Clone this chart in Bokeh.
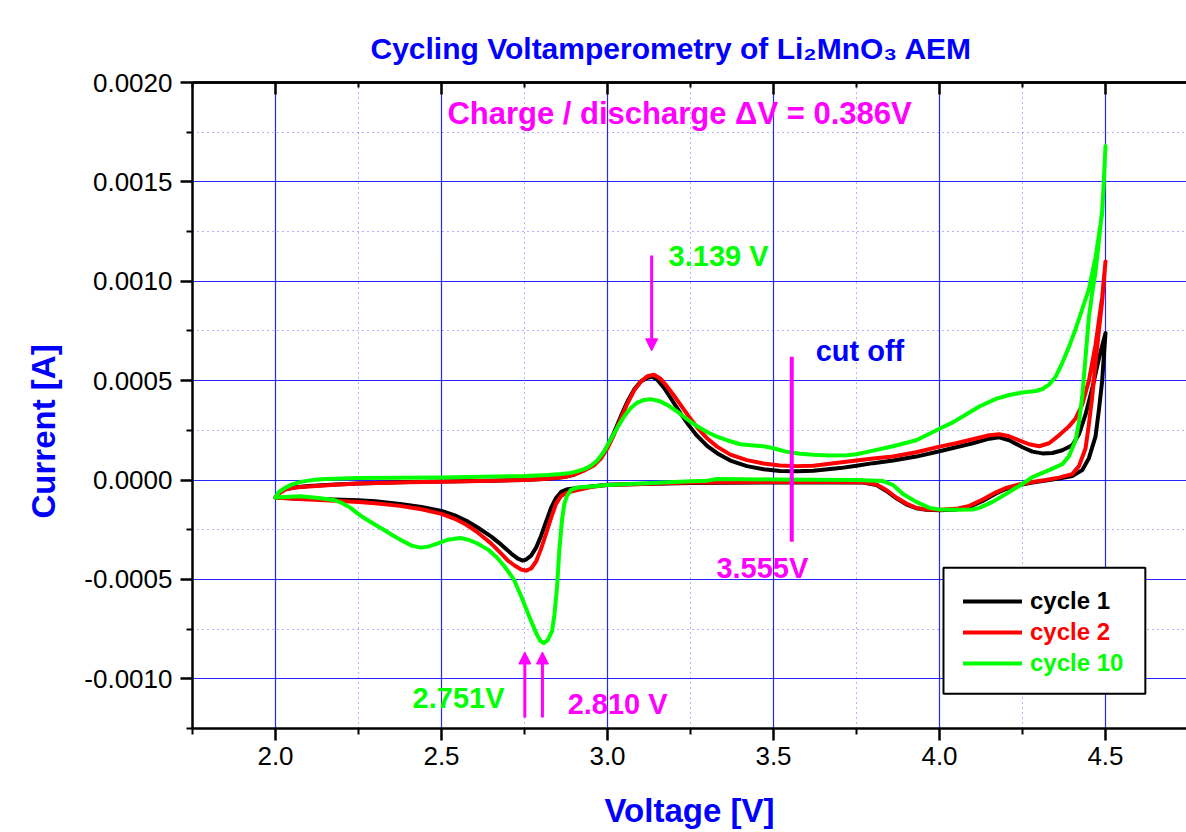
from bokeh.plotting import figure
from bokeh.models import (Range1d, FixedTicker, NumeralTickFormatter, LinearAxis, Label, Title,
                          Arrow, NormalHead, BoxAnnotation, Legend, LegendItem)
from bokeh.embed import file_html
from bokeh.resources import INLINE

# ---------------- data ----------------
cycle1_v = [2.00, 2.01, 2.03, 2.06, 2.10, 2.18, 2.25, 2.40, 2.50, 2.65, 2.75, 2.82, 2.87, 2.90,
            2.93, 2.96, 2.98, 3.00, 3.02, 3.04, 3.06, 3.08, 3.10, 3.12, 3.135, 3.15, 3.17, 3.195,
            3.22, 3.245, 3.27, 3.30, 3.33, 3.37, 3.42, 3.47, 3.52, 3.57, 3.62, 3.70, 3.75, 3.80,
            3.86, 3.93, 4.00, 4.05, 4.10, 4.15, 4.18, 4.21, 4.25, 4.28, 4.31, 4.34, 4.37, 4.40,
            4.42, 4.44, 4.46, 4.48, 4.50,
            4.49, 4.48, 4.47, 4.45, 4.43, 4.40, 4.36, 4.32, 4.28, 4.24, 4.20, 4.17, 4.13, 4.09,
            4.05, 4.00, 3.96, 3.93, 3.90, 3.87, 3.84, 3.81, 3.77, 3.70, 3.50, 3.25, 3.00, 2.95,
            2.91, 2.88, 2.86, 2.845, 2.83, 2.815, 2.80, 2.785, 2.77, 2.755, 2.745, 2.73, 2.71,
            2.68, 2.65, 2.61, 2.575, 2.54, 2.50, 2.44, 2.375, 2.30, 2.25, 2.15, 2.05, 2.00]
cycle1_i = [-0.000088, -0.000065, -0.000045, -0.000036, -0.000030, -0.000022, -0.000017,
            -0.000010, -0.000007, -0.000003, 0.000000, 0.000006, 0.000015, 0.000028, 0.000050,
            0.000080, 0.000115, 0.000170, 0.000240, 0.000320, 0.000395, 0.000455, 0.000495,
            0.000515, 0.000520, 0.000505, 0.000465, 0.000400, 0.000335, 0.000275, 0.000222,
            0.000172, 0.000135, 0.000098, 0.000070, 0.000054, 0.000046, 0.000044, 0.000047,
            0.000060, 0.000072, 0.000085, 0.000098, 0.000118, 0.000145, 0.000165, 0.000185,
            0.000208, 0.000215, 0.000200, 0.000165, 0.000143, 0.000134, 0.000136, 0.000150,
            0.000175, 0.000230, 0.000330, 0.000460, 0.000610, 0.000740,
            0.000500, 0.000350, 0.000220, 0.000110, 0.000050, 0.000020, 0.000008, -0.000002,
            -0.000012, -0.000025, -0.000045, -0.000068, -0.000105, -0.000135, -0.000148,
            -0.000152, -0.000150, -0.000142, -0.000122, -0.000092, -0.000055, -0.000025,
            -0.000013, -0.000012, -0.000012, -0.000015, -0.000024, -0.000032, -0.000040,
            -0.000046, -0.000060, -0.000090, -0.000140, -0.000210, -0.000280, -0.000340,
            -0.000380, -0.000400, -0.000405, -0.000395, -0.000370, -0.000325, -0.000285,
            -0.000240, -0.000205, -0.000178, -0.000155, -0.000135, -0.000120, -0.000107,
            -0.000102, -0.000097, -0.000092, -0.000088]

cycle2_v = [2.00, 2.01, 2.03, 2.06, 2.10, 2.18, 2.25, 2.40, 2.50, 2.65, 2.75, 2.82, 2.87, 2.90,
            2.93, 2.96, 2.98, 3.00, 3.02, 3.04, 3.06, 3.08, 3.10, 3.12, 3.14, 3.16, 3.18, 3.20,
            3.22, 3.245, 3.27, 3.30, 3.33, 3.37, 3.42, 3.47, 3.52, 3.57, 3.62, 3.70, 3.75, 3.80,
            3.86, 3.93, 4.00, 4.05, 4.10, 4.15, 4.18, 4.21, 4.24, 4.27, 4.30, 4.33, 4.36, 4.39,
            4.41, 4.43, 4.45, 4.47, 4.49, 4.50,
            4.49, 4.48, 4.47, 4.46, 4.45, 4.44, 4.42, 4.40, 4.36, 4.32, 4.28, 4.24, 4.20, 4.17,
            4.13, 4.09, 4.05, 4.00, 3.96, 3.93, 3.90, 3.87, 3.84, 3.81, 3.77, 3.70, 3.50, 3.25,
            3.00, 2.95, 2.91, 2.88, 2.86, 2.845, 2.83, 2.815, 2.80, 2.785, 2.77, 2.755, 2.74,
            2.72, 2.70, 2.68, 2.65, 2.61, 2.575, 2.54, 2.50, 2.44, 2.375, 2.30, 2.25, 2.15, 2.05,
            2.00]
cycle2_i = [-0.000088, -0.000068, -0.000048, -0.000038, -0.000032, -0.000024, -0.000018,
            -0.000011, -0.000008, -0.000003, 0.000000, 0.000006, 0.000015, 0.000027, 0.000048,
            0.000075, 0.000108, 0.000160, 0.000230, 0.000310, 0.000385, 0.000450, 0.000495,
            0.000522, 0.000530, 0.000510, 0.000470, 0.000425, 0.000378, 0.000320, 0.000265,
            0.000210, 0.000168, 0.000128, 0.000100, 0.000083, 0.000073, 0.000070, 0.000072,
            0.000088, 0.000098, 0.000108, 0.000118, 0.000140, 0.000168, 0.000185, 0.000205,
            0.000225, 0.000230, 0.000220, 0.000200, 0.000180, 0.000170, 0.000185, 0.000225,
            0.000270, 0.000310, 0.000380, 0.000500, 0.000680, 0.000920, 0.001100,
            0.000900, 0.000750, 0.000590, 0.000420, 0.000280, 0.000160, 0.000070, 0.000030,
            0.000012, 0.000000, -0.000010, -0.000022, -0.000040, -0.000062, -0.000098,
            -0.000130, -0.000145, -0.000150, -0.000148, -0.000140, -0.000118, -0.000088,
            -0.000050, -0.000022, -0.000011, -0.000010, -0.000010, -0.000013, -0.000025,
            -0.000035, -0.000050, -0.000062, -0.000080, -0.000120, -0.000190, -0.000270,
            -0.000345, -0.000410, -0.000445, -0.000456, -0.000450, -0.000430, -0.000405,
            -0.000370, -0.000320, -0.000265, -0.000225, -0.000195, -0.000170, -0.000147,
            -0.000130, -0.000117, -0.000110, -0.000102, -0.000094, -0.000088]

cycle10_v = [2.00, 2.01, 2.03, 2.05, 2.08, 2.12, 2.15, 2.25, 2.50, 2.75, 2.82, 2.86, 2.89, 2.91,
             2.93, 2.95, 2.97, 2.99, 3.01, 3.03, 3.05, 3.07, 3.09, 3.11, 3.13, 3.155, 3.18, 3.21,
             3.24, 3.27, 3.30, 3.33, 3.37, 3.40, 3.44, 3.47, 3.50, 3.54, 3.58, 3.62, 3.67, 3.72,
             3.75, 3.80, 3.86, 3.93, 4.00, 4.04, 4.08, 4.12, 4.17, 4.21, 4.25, 4.29, 4.31, 4.33,
             4.35, 4.37, 4.39, 4.41, 4.43, 4.45, 4.47, 4.49, 4.50,
             4.495, 4.49, 4.48, 4.47, 4.46, 4.45, 4.44, 4.43, 4.42, 4.41, 4.39, 4.37, 4.33, 4.28,
             4.24, 4.20, 4.16, 4.12, 4.10, 4.05, 4.00, 3.97, 3.93, 3.89, 3.86, 3.83, 3.75, 3.50,
             3.33, 3.30, 3.25, 3.00, 2.95, 2.91, 2.89, 2.878, 2.87, 2.863, 2.855, 2.848, 2.84,
             2.833, 2.82, 2.808, 2.798, 2.788, 2.775, 2.758, 2.74, 2.718, 2.69, 2.667, 2.64,
             2.607, 2.58, 2.557, 2.52, 2.487, 2.46, 2.437, 2.41, 2.376, 2.35, 2.326, 2.30, 2.266,
             2.245, 2.226, 2.20, 2.175, 2.13, 2.075, 2.00]
cycle10_i = [-0.000088, -0.000060, -0.000038, -0.000022, -0.000008, 0.000002, 0.000005,
             0.000010, 0.000013, 0.000020, 0.000025, 0.000030, 0.000036, 0.000045, 0.000055,
             0.000072, 0.000100, 0.000145, 0.000205, 0.000265, 0.000320, 0.000362, 0.000390,
             0.000403, 0.000407, 0.000398, 0.000378, 0.000345, 0.000305, 0.000270, 0.000242,
             0.000218, 0.000195, 0.000180, 0.000174, 0.000170, 0.000160, 0.000142, 0.000132,
             0.000127, 0.000123, 0.000125, 0.000130, 0.000148, 0.000170, 0.000200, 0.000258,
             0.000290, 0.000330, 0.000370, 0.000408, 0.000428, 0.000440, 0.000448, 0.000458,
             0.000480, 0.000520, 0.000590, 0.000670, 0.000760, 0.000860, 0.000960, 0.001120,
             0.001340, 0.001680,
             0.001500, 0.001360, 0.001200, 0.001050, 0.000940, 0.000820, 0.000620, 0.000420,
             0.000290, 0.000200, 0.000120, 0.000080, 0.000050, 0.000015, -0.000030, -0.000070,
             -0.000110, -0.000140, -0.000148, -0.000150, -0.000148, -0.000140, -0.000110,
             -0.000070, -0.000025, -0.000005, 0.000000, 0.000003, 0.000005, -0.000003,
             -0.000006, -0.000025, -0.000032, -0.000037, -0.000050, -0.000080, -0.000120,
             -0.000200, -0.000350, -0.000540, -0.000680, -0.000760, -0.000805, -0.000820,
             -0.000810, -0.000780, -0.000730, -0.000660, -0.000585, -0.000500, -0.000435,
             -0.000390, -0.000350, -0.000318, -0.000300, -0.000292, -0.000300, -0.000320,
             -0.000335, -0.000340, -0.000330, -0.000300, -0.000275, -0.000250, -0.000225,
             -0.000190, -0.000165, -0.000140, -0.000115, -0.000100, -0.000090, -0.000082,
             -0.000088]

series_names = ["cycle 1", "cycle 2", "cycle 10"]
series_colors = ["#000000", "#ff0000", "#00ff00"]

x_major = [2.0, 2.5, 3.0, 3.5, 4.0, 4.5]
x_minor = [1.75, 2.25, 2.75, 3.25, 3.75, 4.25, 4.75]
y_major = [-0.0010, -0.0005, 0.0, 0.0005, 0.0010, 0.0015, 0.0020]
y_minor = [-0.00125, -0.00075, -0.00025, 0.00025, 0.00075, 0.00125, 0.00175]

peak_ox = 3.139
peak_red_10 = 2.751
peak_red_2 = 2.810
cutoff_v = 3.555

# ---------------- figure ----------------
FONT = "Liberation Sans"
BLUE = "#0000ff"
MAG = "#ff00ff"

p = figure(width=1186, height=832, output_backend="svg", toolbar_location=None,
           x_range=Range1d(1.75, 4.744), y_range=Range1d(-0.00125, 0.0020),
           min_border_left=192, min_border_right=0, min_border_top=82, min_border_bottom=104)
p.outline_line_color = None
p.background_fill_color = "white"
p.border_fill_color = "white"

# title (Li2MnO3 with subscripts)
p.title.text = "Cycling Voltamperometry of Li\u2082MnO\u2083 AEM"
p.title.text_font = FONT
p.title.text_font_size = "30px"
p.title.text_font_style = "bold"
p.title.text_color = BLUE
p.title.align = "left"
p.title.offset = 178
p.title.standoff = 35

xt = FixedTicker(ticks=x_major, minor_ticks=x_minor)
yt = FixedTicker(ticks=y_major, minor_ticks=y_minor)

for ax, t in ((p.xaxis[0], xt), (p.yaxis[0], yt)):
    ax.ticker = t
    ax.axis_line_width = 2.5
    ax.major_tick_line_width = 2.5
    ax.minor_tick_line_width = 2
    ax.major_tick_out = 12
    ax.major_tick_in = 0
    ax.minor_tick_out = 6
    ax.minor_tick_in = 0
    ax.major_label_text_font = FONT
    ax.major_label_text_font_size = "26px"
    ax.major_label_text_color = "black"
    ax.axis_label_text_font = FONT
    ax.axis_label_text_font_size = "33px"
    ax.axis_label_text_font_style = "bold"
    ax.axis_label_text_color = BLUE

p.xaxis[0].formatter = NumeralTickFormatter(format="0.0")
p.yaxis[0].formatter = NumeralTickFormatter(format="0.0000")
p.xaxis[0].axis_label = "Voltage [V]"
p.xaxis[0].major_label_standoff = 6
p.xaxis[0].axis_label_standoff = 24
p.yaxis[0].major_label_standoff = 8

# y label placed lower than the frame centre, as in the original
p.add_layout(Title(text="Current [A]", align="left", offset=210, standoff=40,
                   text_font=FONT, text_font_size="33px", text_font_style="bold",
                   text_color=BLUE), "left")

# top frame line with inward ticks (no labels)
top_major = LinearAxis(ticker=FixedTicker(ticks=[], minor_ticks=x_major), axis_line_width=2.5,
                       minor_tick_line_width=2.5, minor_tick_in=12, minor_tick_out=0)
top_minor = LinearAxis(ticker=FixedTicker(ticks=[], minor_ticks=x_minor), axis_line_width=2.5,
                       minor_tick_line_width=2, minor_tick_in=5, minor_tick_out=0)
p.add_layout(top_major, "above")
p.add_layout(top_minor, "above")

for g, t in ((p.xgrid, xt), (p.ygrid, yt)):
    g.ticker = t
    g.grid_line_color = BLUE
    g.grid_line_alpha = 0.85
    g.grid_line_width = 1.2
    g.minor_grid_line_color = BLUE
    g.minor_grid_line_alpha = 0.6
    g.minor_grid_line_width = 1
    g.minor_grid_line_dash = "1 4"

renderers = []
for xs, ys, c in ((cycle1_v, cycle1_i, series_colors[0]),
                  (cycle2_v, cycle2_i, series_colors[1]),
                  (cycle10_v, cycle10_i, series_colors[2])):
    r = p.line(xs, ys, line_color=c, line_width=4, line_join="round", line_cap="round")
    renderers.append(r)

def lab(x, y, text, color, align="left", size="29px"):
    p.add_layout(Label(x=x, y=y, text=text, text_align=align, text_baseline="middle",
                       text_font=FONT, text_font_size=size, text_font_style="bold",
                       text_color=color))

lab(3.217, 0.001843, "Charge / discharge \u0394V = 0.386V", MAG, align="center", size="31px")
lab(3.184, 0.001129, "%.3f V" % peak_ox, "#00ff00")
lab(3.627, 0.00065, "cut off", BLUE)
lab(3.328, -0.000441, "%.3fV" % cutoff_v, MAG)
lab(2.413, -0.001095, "%.3fV" % peak_red_10, "#00ff00")
lab(2.880, -0.001125, "%.3f V" % peak_red_2, MAG)

def arrow(x, y0, y1):
    p.add_layout(Arrow(end=NormalHead(size=12, fill_color=MAG, line_color=MAG),
                       x_start=x, y_start=y0, x_end=x, y_end=y1,
                       line_color=MAG, line_width=3))

arrow(peak_ox - 0.006, 0.00113, 0.00065)
arrow(peak_red_10, -0.001195, -0.000865)
arrow(peak_red_2 - 0.006, -0.001195, -0.000865)

p.segment(x0=[cutoff_v], y0=[0.00062], x1=[cutoff_v], y1=[-0.00031], line_color=MAG, line_width=4)

# legend
p.add_layout(BoxAnnotation(left=4.012, right=4.62, top=-0.000441, bottom=-0.001075,
                           fill_color="white", fill_alpha=1, line_color="black", line_alpha=1,
                           line_width=2))
for k, (name, col, r) in enumerate(zip(series_names, series_colors, renderers)):
    lg = Legend(items=[LegendItem(label=name, renderers=[r])], location=(771, 112 - 31 * k),
                padding=0, margin=0, spacing=0, glyph_width=59, glyph_height=30, label_height=30,
                label_standoff=8, label_text_font=FONT, label_text_font_size="24px",
                label_text_font_style="bold", label_text_color=col,
                background_fill_alpha=0, border_line_alpha=0)
    p.add_layout(lg)

open("out.html", "w").write(file_html(p, INLINE))
